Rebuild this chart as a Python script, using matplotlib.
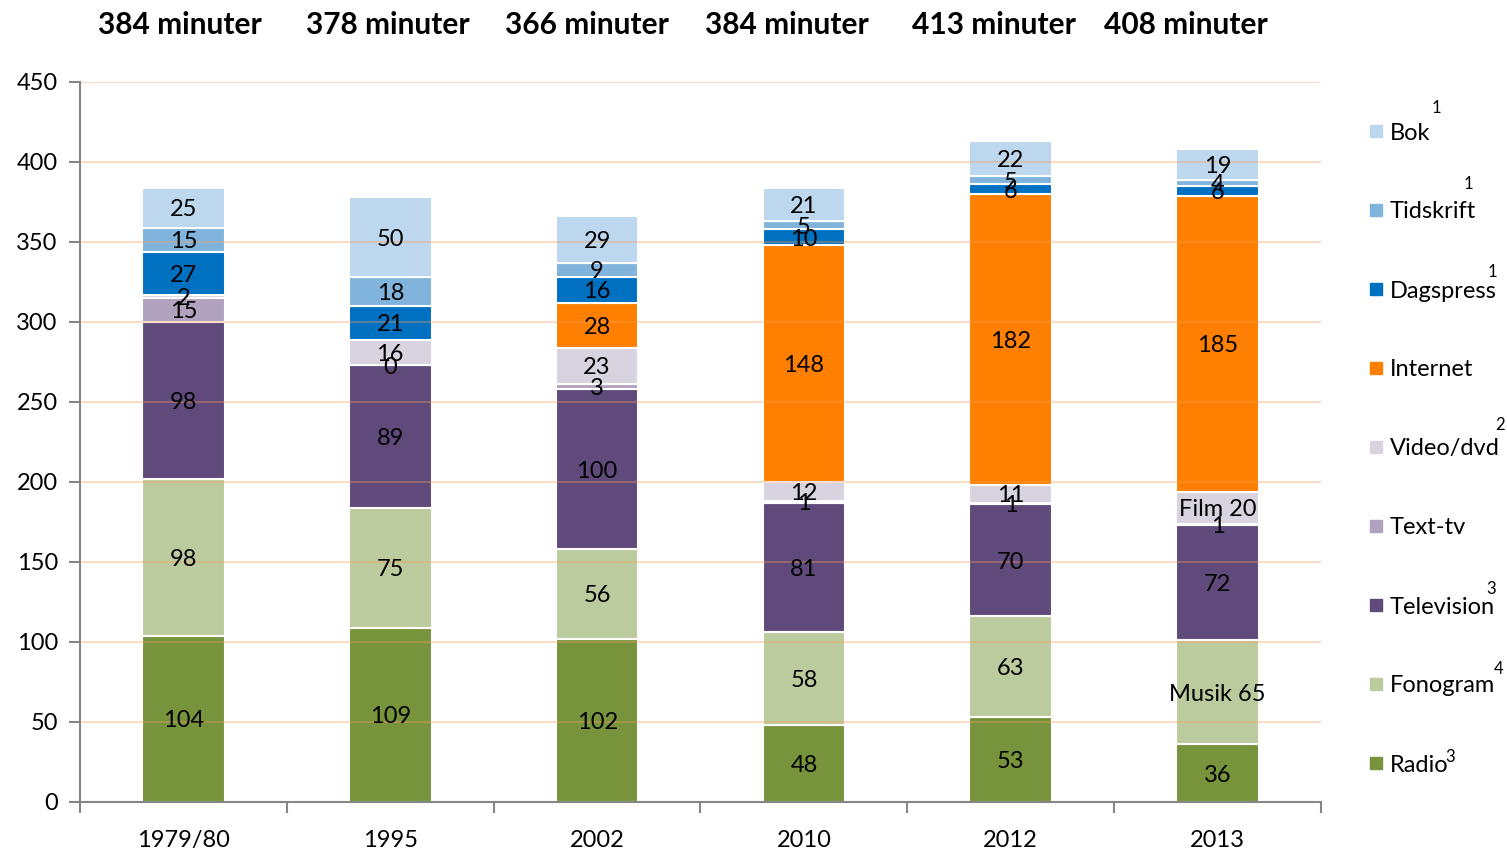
import numpy as np
import matplotlib.pyplot as plt
from matplotlib.patches import Rectangle

# Minutes per day by medium (Mediebarometern)
years = ['1979/80', '1995', '2002', '2010', '2012', '2013']
radio = [104, 109, 102, 48, 53, 36]
fonogram = [98, 75, 56, 58, 63, 65]
television = [98, 89, 100, 81, 70, 72]
text_tv = [15, 0, 3, 1, 1, 1]
video = [2, 16, 23, 12, 11, 20]
internet = [np.nan, np.nan, 28, 148, 182, 185]
dagspress = [27, 21, 16, 10, 6, 6]
tidskrift = [15, 18, 9, 5, 5, 4]
bok = [25, 50, 29, 21, 22, 19]

series = [
    ('Radio', radio, '#77933C'),
    ('Fonogram', fonogram, '#BCCB9D'),
    ('Television', television, '#604A7B'),
    ('Text-tv', text_tv, '#B1A2C0'),
    ('Video/dvd', video, '#D9D3E0'),
    ('Internet', internet, '#FF8000'),
    ('Dagspress', dagspress, '#0070C0'),
    ('Tidskrift', tidskrift, '#80B4DC'),
    ('Bok', bok, '#BDD7EE'),
]
footnotes = {'Bok': '1', 'Tidskrift': '1', 'Dagspress': '1', 'Video/dvd': '2',
             'Television': '3', 'Fonogram': '4', 'Radio': '3'}
# special labels in the last column
label_override = {('Fonogram', 5): 'Musik 65', ('Video/dvd', 5): 'Film 20'}

plt.rcParams['font.family'] = ['Lato', 'DejaVu Sans']
W, H = 1507, 849
fig = plt.figure(figsize=(W / 100, H / 100), dpi=100)
ax = fig.add_axes([80 / W, 47 / H, 1241 / W, 720 / H])

x = np.arange(len(years))
bottom = np.zeros(len(years))
for name, vals, color in series:
    v = np.array(vals, dtype=float)
    h = np.nan_to_num(v)
    ax.bar(x, h, 0.4, bottom=bottom, color=color, edgecolor='white',
           linewidth=1.5, zorder=2)
    for i in range(len(x)):
        if np.isnan(v[i]):
            continue
        lab = label_override.get((name, i), str(int(v[i])))
        ax.text(x[i], bottom[i] + h[i] / 2, lab, ha='center', va='center_baseline',
                fontsize=17, zorder=4)
    bottom += h

ax.set_xlim(-0.5, len(years) - 0.5)
ax.set_ylim(0, 450)
ax.set_yticks(np.arange(0, 451, 50))
ax.set_xticks(x)
ax.set_xticklabels(years)
ax.set_xticks(np.arange(-0.5, len(years), 1), minor=True)
ax.tick_params(axis='x', which='major', length=0, labelsize=17, pad=20)
ax.tick_params(axis='x', which='minor', length=8, width=1.5, color='#868686')
ax.tick_params(axis='y', length=8, width=1.5, color='#868686', labelsize=17, pad=8)
ax.yaxis.grid(True, color='#F5A060', alpha=0.35, linewidth=1.5)
ax.set_axisbelow(False)
for s in ['top', 'right']:
    ax.spines[s].set_visible(False)
for s in ['left', 'bottom']:
    ax.spines[s].set_color('#868686')
    ax.spines[s].set_linewidth(1.5)
    ax.spines[s].set_zorder(3)

# totals on top
totals = np.nansum(np.array([s[1] for s in series], dtype=float), axis=0)
title_x = [180, 388, 587, 787, 994, 1186]
for tx, tot in zip(title_x, totals):
    fig.text(tx / W, 1 - 25 / H, f'{int(tot)} minuter', ha='center', va='center',
             fontsize=21.5, fontweight='bold')

# legend, drawn by hand to get the footnote marks
leg_y = [131, 210, 289, 368, 447, 526, 605, 684, 763]
sup_pos = {'Bok': (1436, 108), 'Tidskrift': (1468, 184), 'Dagspress': (1492, 272),
           'Video/dvd': (1500, 425), 'Television': (1491, 589),
           'Fonogram': (1499, 669), 'Radio': (1450, 757)}
for (name, _, color), ly in zip(series[::-1], leg_y):
    fig.add_artist(Rectangle((1370 / W, 1 - (ly + 6) / H), 12 / W, 12 / H,
                             transform=fig.transFigure, color=color))
    fig.text(1390 / W, 1 - ly / H, name, ha='left', va='center_baseline', fontsize=17)
    if name in footnotes:
        sx, sy = sup_pos[name]
        fig.text(sx / W, 1 - sy / H, footnotes[name], ha='center', va='center',
                 fontsize=12)

fig.savefig('out.png', dpi=100)
